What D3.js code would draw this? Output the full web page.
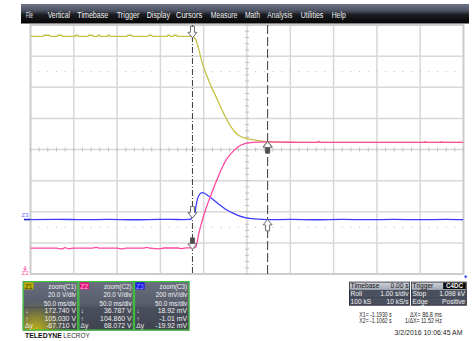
<!DOCTYPE html>
<html><head><meta charset="utf-8">
<script src="https://cdn.jsdelivr.net/npm/d3@7"></script>
<style>
html,body{margin:0;padding:0;background:#fff;}
svg{display:block;font-family:"Liberation Sans",Arial,sans-serif;}
</style></head><body>
<svg id="scope" width="475" height="341"></svg>
<script>
// ---------------- data ----------------
const menuItems = ["File","Vertical","Timebase","Trigger","Display","Cursors","Measure","Math","Analysis","Utilities","Help"];

// zoom window: 50 ms/div over 10 divisions (seconds)
const timeWindow = [-1.38, -0.88];
const timePerDiv = 0.05;
// Z1 / Z2: 20 V/div, centred on 100 V ; Z3: 200 mV/div centred on 450 mV
const voltWindow = [20, 180];
const voltPerDiv = 20;
const milliVoltWindow = [-350, 1250];

const cursorX1 = -1.1930;
const cursorX2 = -1.1062;

// Z1 (yellow) samples [s, V]
const z1Samples = [
  [-1.3800,172.74],[-1.3653,172.74],[-1.3645,173.40],[-1.3580,173.40],[-1.3573,172.74],
  [-1.3492,172.74],[-1.3485,173.40],[-1.3440,173.40],[-1.3434,172.74],[-1.3284,172.74],
  [-1.3277,173.40],[-1.3255,173.40],[-1.3249,172.74],[-1.3134,172.74],[-1.3127,173.40],
  [-1.3083,173.40],[-1.3076,172.74],[-1.3030,172.74],[-1.3023,173.40],[-1.3002,173.40],
  [-1.2995,172.74],[-1.2914,172.74],[-1.2907,173.40],[-1.2887,173.40],[-1.2880,172.74],
  [-1.2683,172.74],[-1.2676,173.40],[-1.2633,173.40],[-1.2626,172.74],[-1.2441,172.74],
  [-1.2434,173.40],[-1.2402,173.40],[-1.2395,172.74],[-1.2222,172.74],[-1.2215,173.40],
  [-1.2194,173.40],[-1.2187,172.74],[-1.2152,172.74],[-1.2145,173.40],[-1.2113,173.40],
  [-1.2106,172.74],[-1.1930,172.74],
  [-1.1918,172.4],[-1.1898,171.2],[-1.1860,165.1],[-1.1821,156.5],[-1.1783,150.1],
  [-1.1745,144.8],[-1.1705,139.4],[-1.1667,135.1],[-1.1629,130.4],[-1.1590,125.5],
  [-1.1552,121.2],[-1.1514,117.3],[-1.1474,113.7],[-1.1436,111.1],[-1.1398,109.2],
  [-1.1341,107.7],[-1.1283,106.8],[-1.1205,106.0],[-1.1128,105.3],[-1.1062,105.03],
  [-1.0900,104.7],[-1.0478,104.6],[-1.0470,105.2],[-1.0455,104.6],[-1.0000,104.6],
  [-0.9500,104.6],[-0.8800,104.6]
];

// Z2 (pink) samples [s, V]
const z2Samples = [
  [-1.3800,36.6],[-1.3500,36.6],[-1.3440,36.1],[-1.3400,36.9],[-1.3360,36.2],[-1.3300,36.6],
  [-1.3100,36.6],[-1.3040,37.1],[-1.3000,36.6],[-1.2800,36.6],[-1.2740,36.1],[-1.2700,36.6],
  [-1.2500,36.6],[-1.2460,37.1],[-1.2420,36.6],[-1.2300,36.2],[-1.2260,36.7],[-1.2100,36.7],
  [-1.2050,36.3],[-1.2000,36.8],[-1.1930,36.787],
  [-1.1898,37.0],[-1.1879,39.7],[-1.1860,45.1],[-1.1821,53.6],[-1.1783,60.5],[-1.1745,66.5],
  [-1.1705,72.4],[-1.1667,77.8],[-1.1629,83.0],[-1.1590,88.0],[-1.1552,92.2],[-1.1514,95.4],
  [-1.1474,98.0],[-1.1436,100.2],[-1.1398,101.9],[-1.1341,103.4],[-1.1283,104.2],
  [-1.1167,104.8],[-1.1062,104.86],
  [-1.0900,104.7],[-1.0700,104.6],[-1.0490,104.6],[-1.0475,105.2],[-1.0460,104.6],
  [-0.9260,104.6],[-0.9245,105.1],[-0.9230,104.6],[-0.9070,104.6],[-0.9055,105.1],
  [-0.9040,104.6],[-0.8800,104.6]
];

// Z3 (blue) samples [s, mV]
const z3Samples = [
  [-1.3800,0],[-1.3500,1.5],[-1.3200,-1],[-1.2900,1],[-1.2600,-1.5],[-1.2300,1],
  [-1.2050,0],[-1.1960,1],[-1.1945,4],[-1.1930,18.92],[-1.1906,29.4],[-1.1890,82.8],
  [-1.1875,125.9],[-1.1852,158.0],[-1.1821,172.8],[-1.1791,169.0],[-1.1745,151.6],
  [-1.1687,125.9],[-1.1629,100.2],[-1.1552,68.0],[-1.1474,44.2],[-1.1398,24.9],
  [-1.1321,12.0],[-1.1244,5.6],[-1.1128,1.5],[-1.1062,-1.01],
  [-1.0800,0.5],[-1.0500,-1.5],[-1.0200,0.5],[-0.9900,-1],[-0.9600,1],[-0.9300,-1],
  [-0.9000,0.5],[-0.8800,-0.5]
];

// readout panel text
const traceIds = ["Z1","Z2","Z3"];
const traceSources = ["zoom(C1)","zoom(C2)","zoom(C3)"];
const verticalScales = ["20.0 V/div","20.0 V/div","200 mV/div"];
const horizontalScales = ["50.0 ms/div","50.0 ms/div","50.0 ms/div"];
const atX1 = ["172.740 V","36.787 V","18.92 mV"];
const atX2 = ["105.030 V","104.860 V","-1.01 mV"];
const deltaY = ["-67.710 V","68.072 V","-19.92 mV"];

const timebaseRows = [["Timebase","0.00 s"],["Roll","1.00 s/div"],["100 kS","10 kS/s"]];
const triggerRows = [["Trigger","C4DC"],["Stop","1.098 kV"],["Edge","Positive"]];
const cursorReadout = [["X1= -1.1930 s","\u0394X= 86.8 ms"],["X2= -1.1062 s","1/\u0394X= 11.52 Hz"]];
const timestamp = "3/2/2016 10:06:45 AM";

// ---------------- drawing ----------------
const svg = d3.select("#scope");
const gx0 = 30.5, gx1 = 463.5, gy0 = 25, gy1 = 274;

const x = d3.scaleLinear().domain(timeWindow).range([gx0, gx1]);
const yV = d3.scaleLinear().domain(voltWindow).range([gy1, gy0]);
const yMV = d3.scaleLinear().domain(milliVoltWindow).range([gy1, gy0]);

const defs = svg.append("defs");
function linGrad(id, stops){
  const g = defs.append("linearGradient").attr("id", id).attr("x1",0).attr("y1",0).attr("x2",0).attr("y2",1);
  stops.forEach(([o,c,a]) => g.append("stop").attr("offset",o).attr("stop-color",c).attr("stop-opacity",a==null?1:a));
}
linGrad("menuGrad", [[0,"#6e7588"],[0.35,"#4b5161"],[0.55,"#1b1c21"],[1,"#050505"]]);
linGrad("boxTop", [[0,"#6a6f7f"],[1,"#555a69"]]);
linGrad("boxLow", [[0,"#4b4f5c"],[1,"#3f434f"]]);
linGrad("hdrGrad", [[0,"#d4d7de"],[1,"#a2a7b2"]]);
const glow = defs.append("radialGradient").attr("id","z1glow")
  .attr("gradientUnits","userSpaceOnUse").attr("cx",36).attr("cy",331).attr("r",34);
glow.append("stop").attr("offset",0).attr("stop-color","#c9bf10").attr("stop-opacity",0.95);
glow.append("stop").attr("offset",0.45).attr("stop-color","#a49d2a").attr("stop-opacity",0.65);
glow.append("stop").attr("offset",1).attr("stop-color","#5a5d60").attr("stop-opacity",0);
defs.append("clipPath").attr("id","plotClip").append("rect")
  .attr("x",gx0).attr("y",gy0).attr("width",gx1-gx0).attr("height",gy1-gy0);

// text helper: optional condensing via textLength
function label(parent, px, py, str, o = {}){
  const t = parent.append("text").attr("x",px).attr("y",py).text(str)
    .attr("font-size", o.size || 8).attr("fill", o.fill || "#eee")
    .attr("text-anchor", o.anchor || "start");
  if (o.weight) t.attr("font-weight", o.weight);
  const natural = t.node().getComputedTextLength();
  const target = o.w != null ? o.w : natural * (o.sx || 1);
  if (Math.abs(target - natural) > 0.3) t.attr("textLength", target).attr("lengthAdjust","spacingAndGlyphs");
  return t;
}

// menu bar
const menu = svg.append("g");
menu.append("rect").attr("x",21).attr("y",4).attr("width",448).attr("height",19.5).attr("fill","url(#menuGrad)");
const menuLeft = [26,47.7,77.3,116.7,146.7,176,210.7,245,267.3,300.7,331.7];
const menuWidth = [6.7,22.3,31,22.7,23.3,26.3,26.7,15,25,22.7,14];
menuItems.forEach((m,i) => label(menu, menuLeft[i], 18, m, {size:8.5, w:menuWidth[i], fill:"#f2f2f2"}));

// graticule
const grid = svg.append("g");
const majorT = d3.range(0, 11).map(i => timeWindow[0] + i * timePerDiv);
const majorV = d3.range(voltWindow[0], voltWindow[1] + 1, voltPerDiv);
grid.selectAll("line.v").data(majorT).join("line")
  .attr("x1",d=>x(d)).attr("x2",d=>x(d)).attr("y1",gy0).attr("y2",gy1)
  .attr("stroke","#d8d8d8").attr("stroke-width",1.5);
grid.selectAll("line.h").data(majorV).join("line")
  .attr("x1",gx0).attr("x2",gx1).attr("y1",d=>yV(d)).attr("y2",d=>yV(d))
  .attr("stroke","#d8d8d8").attr("stroke-width",1.5);
grid.append("rect").attr("x",gx0).attr("y",gy0).attr("width",gx1-gx0).attr("height",gy1-gy0)
  .attr("fill","none").attr("stroke","#cbcbcb").attr("stroke-width",1.8);

// centre axes with minor ticks
const tMid = (timeWindow[0] + timeWindow[1]) / 2;
const vMid = (voltWindow[0] + voltWindow[1]) / 2;
const minorT = d3.range(0, 51).map(i => timeWindow[0] + i * timePerDiv / 5);
const minorV = d3.range(0, 41).map(i => voltWindow[0] + i * voltPerDiv / 5);
grid.selectAll("line.mt").data(minorT).join("line")
  .attr("x1",d=>x(d)).attr("x2",d=>x(d)).attr("y1",yV(vMid)-2).attr("y2",yV(vMid)+2)
  .attr("stroke","#bdbdbd").attr("stroke-width",1);
grid.selectAll("line.mv").data(minorV).join("line")
  .attr("x1",x(tMid)-2).attr("x2",x(tMid)+2).attr("y1",d=>yV(d)).attr("y2",d=>yV(d))
  .attr("stroke","#bdbdbd").attr("stroke-width",1);
// dotted guide rows at +/- 2.5 div
[vMid + 2.5*voltPerDiv, vMid - 2.5*voltPerDiv].forEach(v => {
  grid.selectAll(null).data(minorT.slice(1,-1)).join("rect")
    .attr("x",d=>x(d)-0.5).attr("y",yV(v)-0.5).attr("width",1).attr("height",1)
    .attr("fill","#b5b5b5");
});

// traces
const traces = svg.append("g").attr("clip-path","url(#plotClip)");
const lineV = d3.line().x(d=>x(d[0])).y(d=>yV(d[1])).curve(d3.curveMonotoneX);
const lineMV = d3.line().x(d=>x(d[0])).y(d=>yMV(d[1])).curve(d3.curveMonotoneX);
traces.append("path").attr("d", lineMV(z3Samples)).attr("fill","none").attr("stroke","#3c3cff").attr("stroke-width",1.3);
traces.append("path").attr("d", lineV(z1Samples)).attr("fill","none").attr("stroke","#c6c144").attr("stroke-width",1.3);
traces.append("path").attr("d", lineV(z2Samples)).attr("fill","none").attr("stroke","#ff48a0").attr("stroke-width",1.3);

// cursors
const cur = svg.append("g");
cur.append("line").attr("x1",x(cursorX1)).attr("x2",x(cursorX1)).attr("y1",gy0).attr("y2",gy1)
  .attr("stroke","#3a3a3a").attr("stroke-width",1).attr("stroke-dasharray","6,2,1,2");
cur.append("line").attr("x1",x(cursorX2)).attr("x2",x(cursorX2)).attr("y1",gy0).attr("y2",gy1)
  .attr("stroke","#3a3a3a").attr("stroke-width",1).attr("stroke-dasharray","9,3");

function valueAt(samples, t){
  const s = samples.find(d => Math.abs(d[0]-t) < 1e-6);
  return s ? s[1] : null;
}
function cursorArrow(px, tipY, dir, darkStem){
  const pts = [[0,0],[-4.5,-5.5],[-2,-5.5],[-2,-11.5],[2,-11.5],[2,-5.5],[4.5,-5.5]]
    .map(([dx,dy]) => [px+dx, tipY+dy*dir]);
  cur.append("path").attr("d", d3.line()(pts)+"Z")
    .attr("fill","#fff").attr("stroke","#6c6c6c").attr("stroke-width",1);
  if (darkStem){
    cur.append("rect").attr("x",px-2).attr("y", dir>0 ? tipY-11.5 : tipY+5.5)
      .attr("width",4).attr("height",6).attr("fill","#4d4d4d");
  }
}
const x1p = x(cursorX1), x2p = x(cursorX2);
cursorArrow(x1p, yV(valueAt(z1Samples,cursorX1))+1.5, 1, false);
cursorArrow(x1p, yV(valueAt(z2Samples,cursorX1))+1.5, 1, true);
cursorArrow(x1p, yMV(valueAt(z3Samples,cursorX1))+1.5, 1, false);
cursorArrow(x2p, yV(valueAt(z1Samples,cursorX2))-0.3, -1, false);
cursorArrow(x2p, yV(valueAt(z2Samples,cursorX2))-0.3, -1, true);
cursorArrow(x2p, yMV(valueAt(z3Samples,cursorX2))-0.3, -1, false);

// channel markers left of graticule
const mk = svg.append("g");
mk.append("line").attr("x1",24).attr("x2",gx0).attr("y1",yMV(0)).attr("y2",yMV(0))
  .attr("stroke","#2222cc").attr("stroke-width",1.6);
label(mk, 21.5, 216.5, "Z3", {size:6, fill:"#6a6aff", w:7});
label(mk, 21.5, 274.5, "Z2", {size:6, fill:"#ff48a0", w:7});
mk.append("path").attr("d","M25,266 L25,270 M23.5,268.5 L25,270.5 L26.5,268.5").attr("stroke","#ff48a0").attr("fill","none").attr("stroke-width",0.9);
mk.append("path").attr("d","M464.2,276.7 H467.2 M465.7,275.2 V278.2").attr("stroke","#3333ff").attr("stroke-width",1);

// trace readout boxes
const panel = svg.append("g");
const tagFill = ["#bfb200","#e3137c","#1717e6"];
const tagText = ["#3a3500","#ffc2e0","#9c9cff"];
const boxX0 = 22.7, boxW = 55.6, boxY0 = 281, boxH = 49.6, splitY = 307.3;
traceIds.forEach((id, i) => {
  const bx = boxX0 + i*boxW;
  const b = panel.append("g");
  b.append("rect").attr("x",bx).attr("y",boxY0).attr("width",boxW).attr("height",splitY-boxY0).attr("fill","url(#boxTop)");
  b.append("rect").attr("x",bx).attr("y",splitY).attr("width",boxW).attr("height",boxY0+boxH-splitY).attr("fill","url(#boxLow)");
  if (i === 0) b.append("rect").attr("x",bx).attr("y",splitY-6).attr("width",boxW).attr("height",boxY0+boxH-splitY+6).attr("fill","url(#z1glow)");
  b.append("line").attr("x1",bx).attr("x2",bx+boxW).attr("y1",splitY).attr("y2",splitY).attr("stroke","#3a3e49").attr("stroke-width",0.8);
  b.append("rect").attr("x",bx+0.6).attr("y",boxY0+0.6).attr("width",boxW-1.2).attr("height",boxH-1.2)
    .attr("fill","none").attr("stroke","#3fc43f").attr("stroke-width",1.2);
  b.append("rect").attr("x",bx+1.5).attr("y",282.4).attr("width",9.2).attr("height",7).attr("fill",tagFill[i]);
  label(b, bx+2.2, 288.7, id, {size:7, fill:tagText[i], w:7.6});
  const rx = bx + boxW - 2.3;
  label(b, rx, 289, traceSources[i], {size:7, anchor:"end", sx:0.9, fill:"#f2f2f2"});
  label(b, rx, 297.3, verticalScales[i], {size:7, anchor:"end", sx:0.9, fill:"#f2f2f2"});
  label(b, rx, 305.5, horizontalScales[i], {size:7, anchor:"end", sx:0.9, fill:"#f2f2f2"});
  const rowY = [313.3, 320.7, 328.1];
  label(b, bx+2.5, rowY[0], "\u2193", {size:6.4, fill:"#e8e8e8"});
  label(b, bx+2.5, rowY[1], "\u2191", {size:6.4, fill:"#e8e8e8"});
  label(b, bx+2.3, rowY[2], "\u0394y", {size:6.4, fill:"#e8e8e8", sx:1.05});
  label(b, rx, rowY[0], atX1[i], {size:6.4, anchor:"end", sx:1.08, fill:"#efefef"});
  label(b, rx, rowY[1], atX2[i], {size:6.4, anchor:"end", sx:1.08, fill:"#efefef"});
  label(b, rx, rowY[2], deltaY[i], {size:6.4, anchor:"end", sx:1.08, fill:"#efefef"});
});

// timebase and trigger boxes
function infoBox(bx, bw, rows, badge){
  const g = panel.append("g");
  const by = 281.7, hh = 8, rh = 7.9;
  g.append("rect").attr("x",bx).attr("y",by).attr("width",bw).attr("height",hh).attr("fill","url(#hdrGrad)");
  g.append("rect").attr("x",bx).attr("y",by+hh).attr("width",bw).attr("height",rh*2).attr("fill","#4b505f");
  g.append("line").attr("x1",bx).attr("x2",bx+bw).attr("y1",by+hh+rh).attr("y2",by+hh+rh).attr("stroke","#3d414d").attr("stroke-width",0.6);
  g.append("rect").attr("x",bx+0.4).attr("y",by+0.4).attr("width",bw-0.8).attr("height",hh+rh*2-0.8)
    .attr("fill","none").attr("stroke","#2f3138").attr("stroke-width",0.8);
  label(g, bx+1.6, by+6.4, rows[0][0], {size:7.5, sx:0.88, fill:"#161616"});
  if (badge){
    g.append("rect").attr("x",bx+bw-23.5).attr("y",by+0.9).attr("width",22.6).attr("height",6.4).attr("fill","#0b0b0b");
    label(g, bx+bw-12.2, by+6.2, rows[0][1], {size:6.5, anchor:"middle", weight:"bold", fill:"#f4f4f4", w:17});
  } else {
    label(g, bx+bw-1.5, by+6.4, rows[0][1], {size:7.5, anchor:"end", sx:0.88, fill:"#161616"});
  }
  [1,2].forEach(r => {
    const yy = by + hh + rh*(r-1) + 6.2;
    label(g, bx+1.6, yy, rows[r][0], {size:7.5, sx:0.88, fill:"#f0f0f0"});
    label(g, bx+bw-1.5, yy, rows[r][1], {size:7.5, anchor:"end", sx:0.88, fill:"#f0f0f0"});
  });
}
infoBox(349, 61, timebaseRows, false);
infoBox(411, 55.7, triggerRows, true);

// cursor readouts
cursorReadout.forEach((r, i) => {
  const yy = 316.6 + i*6.6;
  label(panel, 359.3, yy, r[0], {size:6.8, fill:"#1c1c1c", w:32.4});
  label(panel, 441.8, yy, r[1], {size:6.8, anchor:"end", fill:"#1c1c1c", w: i===0 ? 31.8 : 36.8});
});
label(panel, 462.5, 335.2, timestamp, {size:7.2, anchor:"end", fill:"#1c1c1c", w:68});

// brand
label(panel, 25, 337.6, "TELEDYNE", {size:7.6, weight:"bold", fill:"#111", w:37});
label(panel, 63.3, 337.6, "LECROY", {size:7.6, fill:"#333", w:26.5});
</script>
</body></html>
